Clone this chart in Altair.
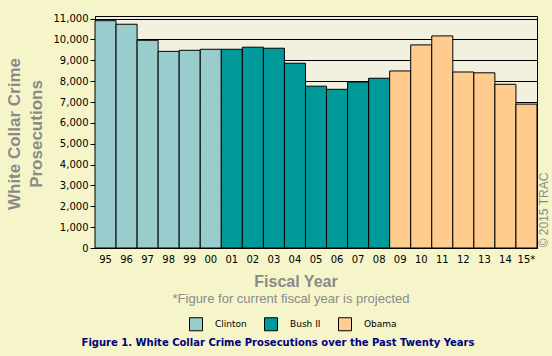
import altair as alt
import pandas as pd

years = ["95", "96", "97", "98", "99", "00", "01", "02", "03", "04", "05",
         "06", "07", "08", "09", "10", "11", "12", "13", "14", "15*"]
prosecutions = [10900, 10730, 9960, 9430, 9480, 9530, 9530, 9630, 9580, 8860, 7760,
                7610, 7960, 8140, 8490, 9740, 10170, 8440, 8400, 7850, 6900]
administrations = ["Clinton"] * 6 + ["Bush II"] * 8 + ["Obama"] * 7
admin_names = ["Clinton", "Bush II", "Obama"]
admin_colors = ["#99CCCC", "#009999", "#FFCC8E"]
y_ticks = [0, 1000, 2000, 3000, 4000, 5000, 6000, 7000, 8000, 9000, 10000, 11000]

y_title_lines = ["White Collar Crime", "Prosecutions"]
x_title = "Fiscal Year"
note = "*Figure for current fiscal year is projected"
fig_title = "Figure 1. White Collar Crime Prosecutions over the Past Twenty Years"
credit = "\u00a9 2015 TRAC"

df = pd.DataFrame({"year": years, "value": prosecutions, "admin": administrations})

GRAY = "#8A8A8A"

bars = alt.Chart(df).mark_bar(stroke="black", strokeWidth=1, opacity=1).encode(
    x=alt.X("year:N", sort=years, scale=alt.Scale(paddingInner=0, paddingOuter=0),
            axis=alt.Axis(title=None, labelAngle=0, ticks=False, domainColor="black",
                          labelPadding=6, labelFont="DejaVu Sans", labelFontSize=10,
                          labelColor="black")),
    y=alt.Y("value:Q", scale=alt.Scale(domain=[0, 11125], nice=False),
            axis=alt.Axis(title=None, values=y_ticks, format=",d", grid=True,
                          gridColor="black", gridOpacity=1, gridWidth=1,
                          tickColor="black", tickSize=5, domainColor="black",
                          labelPadding=2, labelFont="DejaVu Sans", labelFontSize=10,
                          labelColor="black")),
    color=alt.Color("admin:N", scale=alt.Scale(domain=admin_names, range=admin_colors),
                    legend=alt.Legend(title=None, orient="none", legendX=94, legendY=301,
                                      direction="horizontal", symbolType="square",
                                      symbolSize=169, symbolStrokeColor="black",
                                      symbolStrokeWidth=1, symbolOpacity=1,
                                      labelFont="DejaVu Sans", labelFontSize=9,
                                      labelColor="black", labelOffset=12,
                                      columnPadding=15, padding=0)),
)


def label(text, x, y, size, color, weight="normal", angle=0, font="Liberation Sans"):
    return alt.Chart(pd.DataFrame({"t": [text]})).mark_text(
        font=font, fontSize=size, fontWeight=weight, color=color, angle=angle,
        align="center", baseline="middle"
    ).encode(text="t:N", x=alt.value(x), y=alt.value(y))


layers = [
    bars,
    label(y_title_lines[0], -80, 118, 17, GRAY, "bold", 270),
    label(y_title_lines[1], -58, 118, 17, GRAY, "bold", 270),
    label(x_title, 201, 266, 16, GRAY, "bold"),
    label(note, 196, 283, 13, GRAY),
    label(credit, 449, 194, 12, GRAY, "normal", 270),
    label(fig_title, 183, 327, 10, "#000080", "bold", 0, "DejaVu Sans"),
]

chart = alt.layer(*layers).properties(
    width=442, height=232,
    autosize=alt.AutoSizeParams(type="none"),
    padding={"left": 95, "top": 16, "right": 15, "bottom": 108},
    background="#F5F5C9",
).configure_view(stroke="black", strokeWidth=1, fill="#F2F1DF")

chart.save("out.html", embed_options={"renderer": "svg", "actions": False})
